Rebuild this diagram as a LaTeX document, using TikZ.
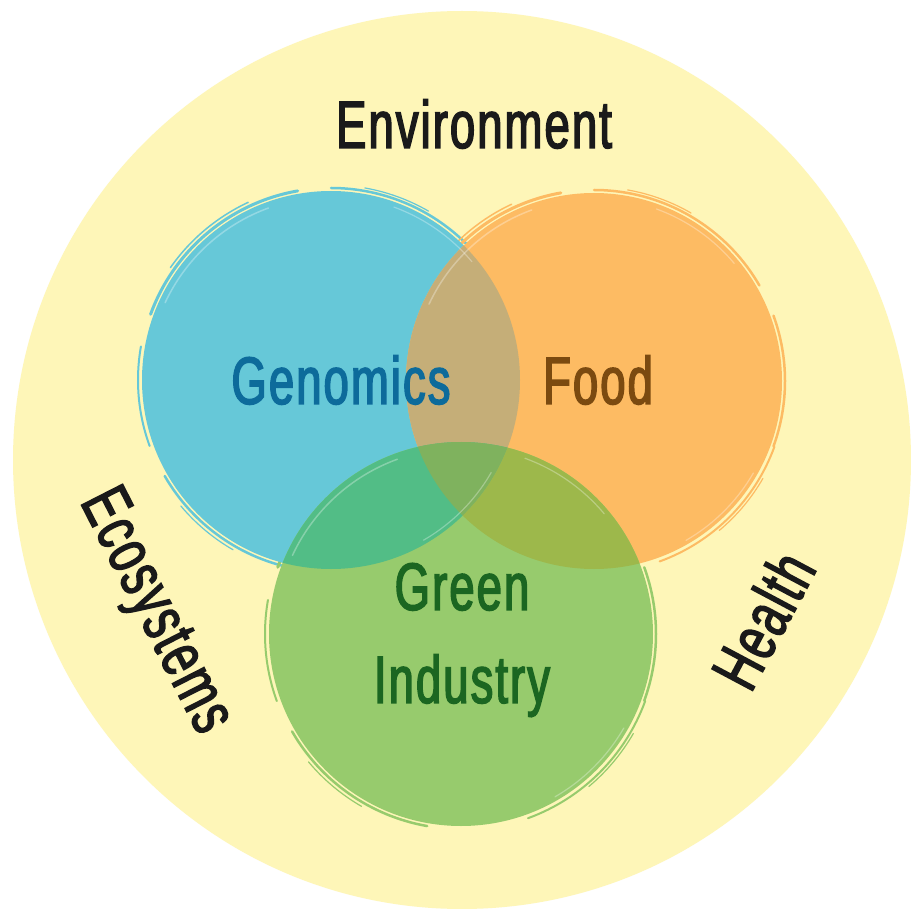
\documentclass[tikz,border=0pt]{standalone}
\usepackage{fontspec}
\newfontfamily\lab[FakeStretch=0.68,FakeBold=2.2,LetterSpace=3]{Liberation Sans}
\definecolor{bgyel}{HTML}{FEF6B8}
\definecolor{cblue}{HTML}{66C8D8}
\definecolor{corange}{HTML}{FDBB63}
\definecolor{cgreen}{HTML}{97CB6D}
\definecolor{cbo}{HTML}{C5AE78}
\definecolor{cbg}{HTML}{52BD86}
\definecolor{cog}{HTML}{9DB84B}
\definecolor{cbog}{HTML}{7FB25E}
\definecolor{tblue}{HTML}{0D6B9B}
\definecolor{tbrown}{HTML}{7B4A10}
\definecolor{tgreen}{HTML}{1B6621}
\definecolor{tdark}{HTML}{1A1A1A}
\tikzset{
  lbl/.style={font=\lab\fontsize{67}{93}\selectfont, inner sep=0pt, align=center},
}
\begin{document}
\begin{tikzpicture}[x=1pt,y=-1pt]
\useasboundingbox (0,0) rectangle (911,909);
\fill[white] (0,0) rectangle (911,909);
\coordinate (O) at (462,460);
\coordinate (B) at (331,380);
\coordinate (F) at (594,381);
\coordinate (G) at (461,634);
\fill[bgyel] (O) circle[radius=449];
% brush halos
\foreach \c/\col/\r in {B/cblue/189, F/corange/188, G/cgreen/192}{
  \foreach \a/\b/\dr/\w in {200/260/3/3, 215/245/7/1.5, 270/330/3/2.5, 280/300/6/1.2, 340/380/3/2.5, 20/70/4/2, 30/50/7/1.2, 100/150/3/2.5, 120/140/7/1.2, 160/190/4/2}{
    \draw[\col, line width=\w pt, line cap=round] (\c) ++(\a:\r+\dr) arc[start angle=\a, end angle=\b, radius=\r+\dr];
  }
}
% main discs
\fill[cblue] (B) circle[radius=189];
\fill[corange] (F) circle[radius=188];
\fill[cgreen] (G) circle[radius=192];
% overlaps
\begin{scope}
  \clip (B) circle[radius=189];
  \fill[cbo] (F) circle[radius=188];
  \fill[cbg] (G) circle[radius=192];
  \clip (F) circle[radius=188];
  \fill[cbog] (G) circle[radius=192];
\end{scope}
\begin{scope}
  \clip (F) circle[radius=188];
  \begin{scope}[even odd rule]
    \clip (B) circle[radius=189] (0,0) rectangle (911,909);
    \fill[cog] (G) circle[radius=192];
  \end{scope}
\end{scope}
% inner brush streaks
\foreach \c/\col/\r in {B/cblue/189, F/corange/188, G/cgreen/192}{
  \foreach \a/\b/\dr/\w in {205/250/-6/1.5, 290/320/-5/1.2, 30/60/-4/1.2}{
    \draw[white, opacity=0.3, line width=\w pt, line cap=round] (\c) ++(\a:\r+\dr) arc[start angle=\a, end angle=\b, radius=\r+\dr];
  }
}
% labels
\node[lbl, text=tdark] (env) at (474,124) {Environment};
\node[lbl, text=tblue] (gen) at (341,380) {Genomics};
\node[lbl, text=tbrown] (food) at (598,380) {Food};
\node[lbl, text=tgreen] (gi) at (462,640) {Green\\Industry};
\node[lbl, text=tdark, rotate=-63] (eco) at (154,612) {Ecosystems};
\node[lbl, text=tdark, rotate=62] (hea) at (763,620) {Health};
\end{tikzpicture}
\end{document}
